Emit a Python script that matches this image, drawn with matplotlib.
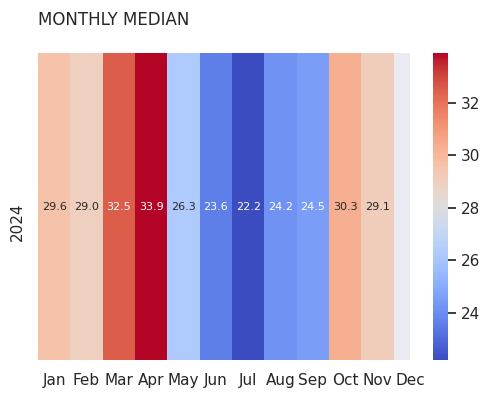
import numpy as np
import pandas as pd
import matplotlib
matplotlib.use("Agg")
import matplotlib.pyplot as plt
import matplotlib.transforms as mtransforms
import seaborn as sns

months = ["Jan", "Feb", "Mar", "Apr", "May", "Jun", "Jul", "Aug", "Sep", "Oct", "Nov", "Dec"]
years = ["2024"]
values_2024 = [29.6, 29.0, 32.5, 33.9, 26.3, 23.6, 22.2, 24.2, 24.5, 30.3, 29.1, np.nan]

sns.set_theme(style="darkgrid")
df = pd.DataFrame([values_2024], index=years, columns=months)

fig = plt.figure(figsize=(4.91, 3.99), dpi=100)
W, H = 491, 399
ax = fig.add_axes([38 / W, 1 - 360 / H, (410 - 38) / W, (360 - 53) / H])
cax = fig.add_axes([433 / W, 1 - 360 / H, (448 - 433) / W, (360 - 53) / H])

sns.heatmap(df, ax=ax, cbar_ax=cax, cmap="coolwarm", annot=True, fmt=".1f",
            annot_kws={"fontsize": 8})
ax.grid(False)
ax.set_xlim(0, 11.5)
ax.set_title("MONTHLY MEDIAN", loc="left", fontsize=12, pad=20)
ax.set_xlabel("")
ax.set_ylabel("")
ax.tick_params(axis="x", labelsize=11, rotation=0)
ax.tick_params(axis="y", labelsize=11)
cax.tick_params(labelsize=11)
shift = mtransforms.ScaledTranslation(0, 4 / 100, fig.dpi_scale_trans)
for t in ax.get_yticklabels():
    t.set_rotation(90)
    t.set_va("top")
    t.set_transform(t.get_transform() + shift)

fig.savefig("out.png", dpi=100)
